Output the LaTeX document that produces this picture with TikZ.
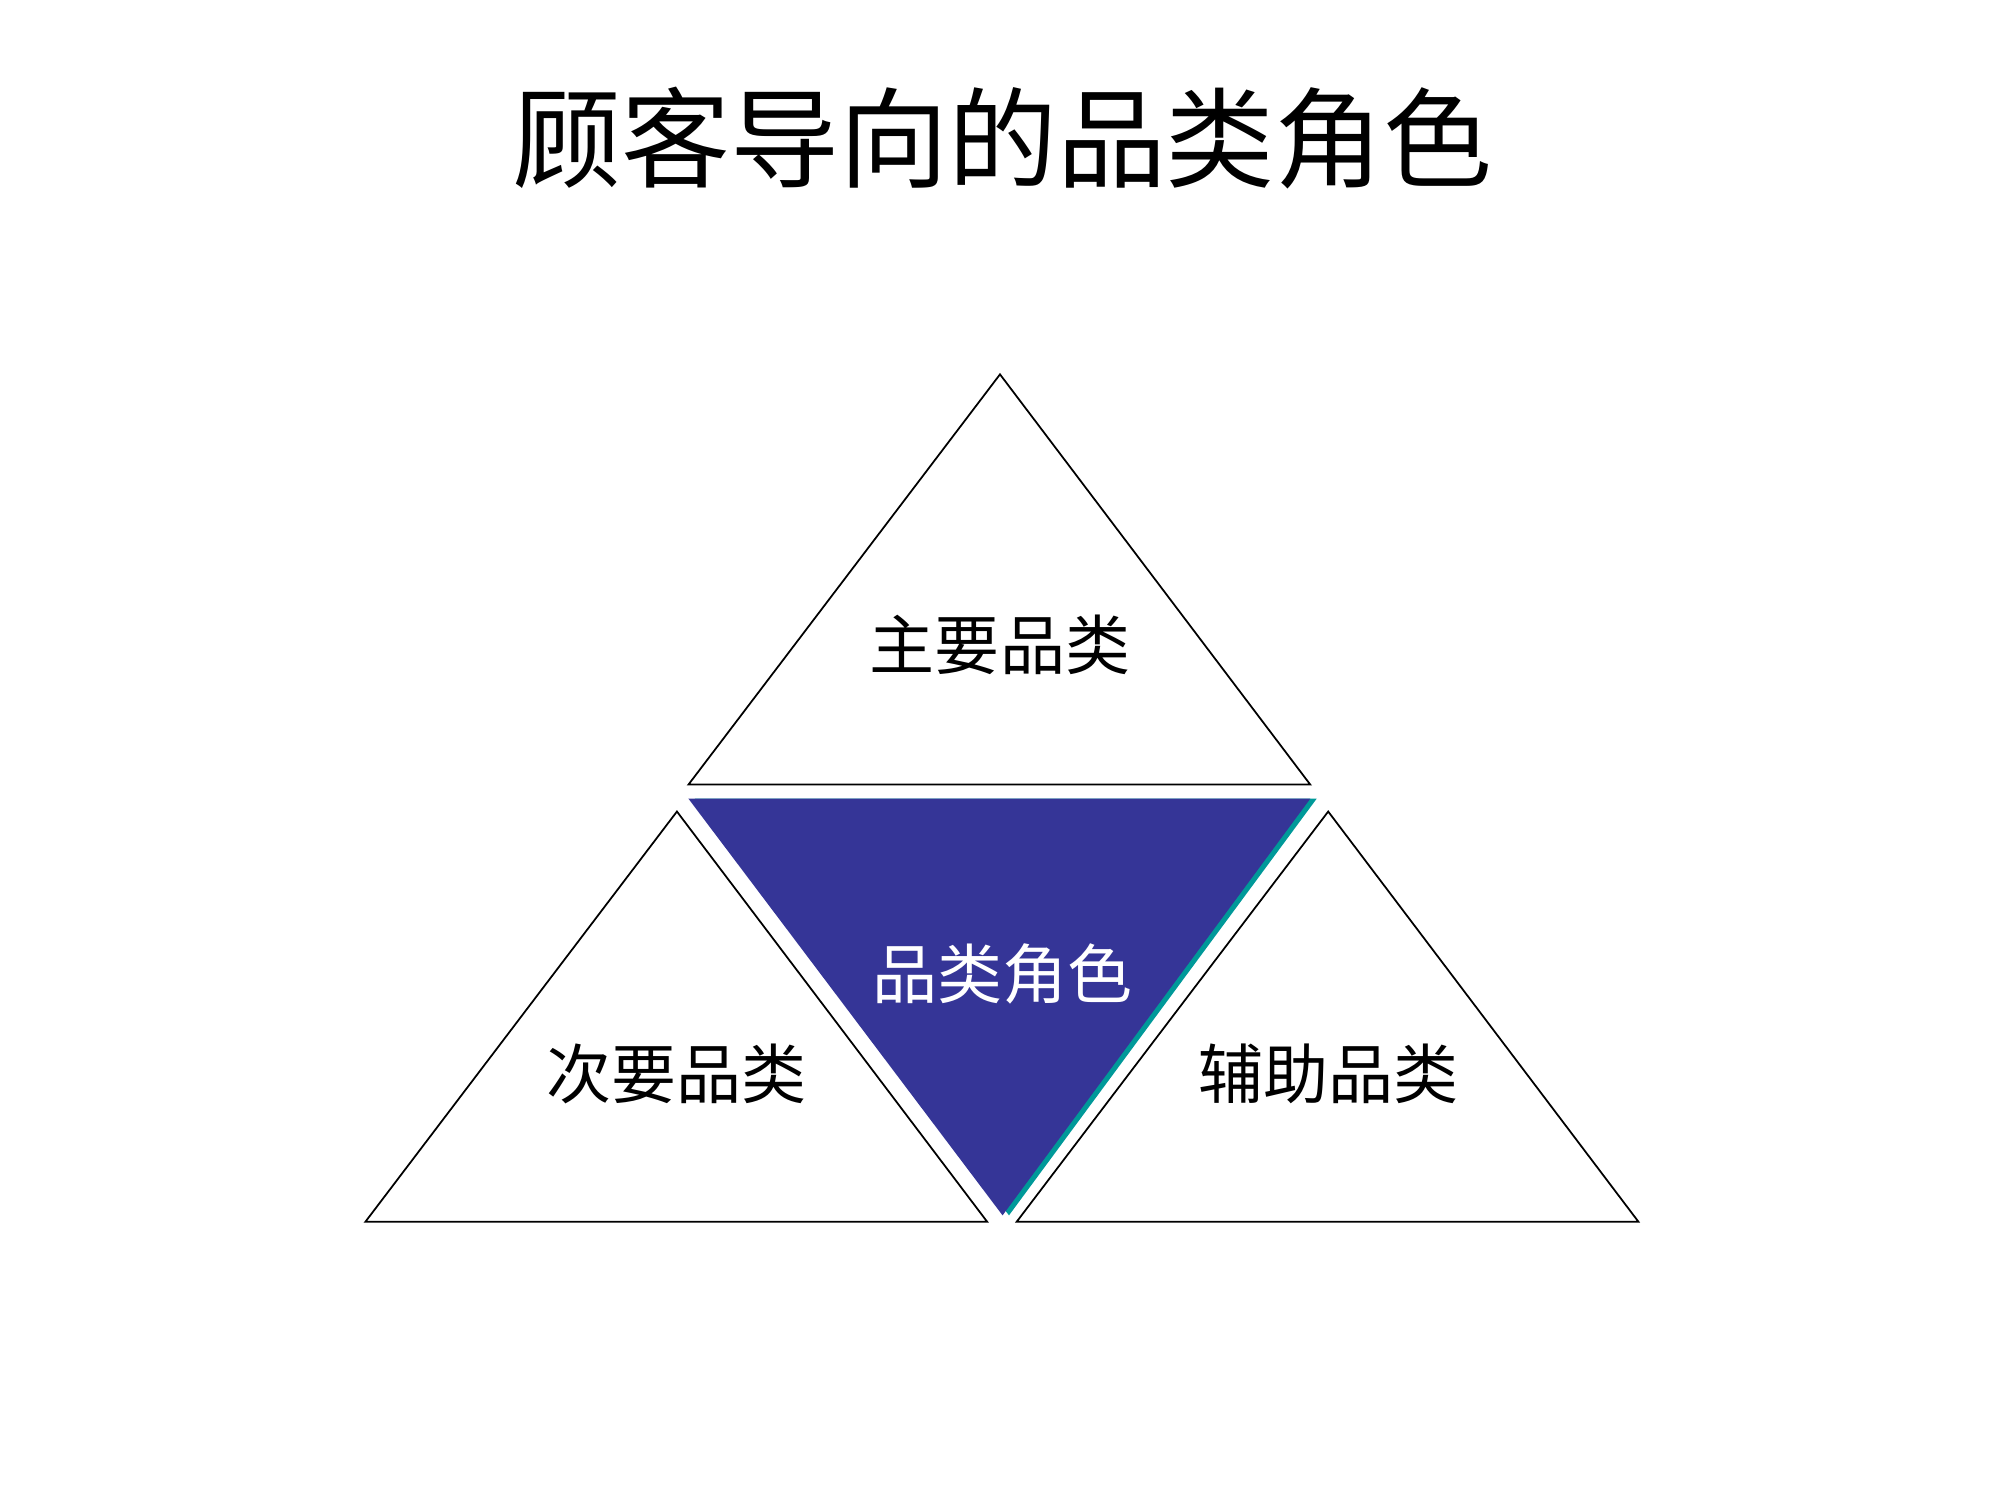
\documentclass[tikz,border=0pt]{standalone}
\usepackage{fontspec}
\newfontfamily\cjk{Noto Sans CJK SC}
\definecolor{tblue}{HTML}{353597}
\definecolor{tteal}{HTML}{009999}
\begin{document}
\begin{tikzpicture}[x=1cm/78,y=-1cm/78,
  tri/.style={draw=black,line width=0.5pt,fill=white},
  lab/.style={font=\cjk\fontsize{18.5pt}{21pt}\selectfont}]
\useasboundingbox (0,0) rectangle (1560,1170);
\node[font=\cjk\fontsize{31pt}{36pt}\selectfont] (title) at (782,108) {顾客导向的品类角色};
\draw[tri] (780,292) -- (1022,612) -- (537,612) -- cycle;
\draw[tri] (528,633) -- (770,953) -- (285,953) -- cycle;
\draw[tri] (1036,633) -- (1278,953) -- (793,953) -- cycle;
\fill[tteal] (542,623) -- (1027,623) -- (787,948) -- cycle;
\fill[tblue] (537,623) -- (1022,623) -- (782,948) -- cycle;
\node[lab] (a) at (780,503) {主要品类};
\node[lab] (b) at (528,838) {次要品类};
\node[lab] (c) at (1036,838) {辅助品类};
\node[lab,text=white] (d) at (782,760) {品类角色};
\end{tikzpicture}
\end{document}
